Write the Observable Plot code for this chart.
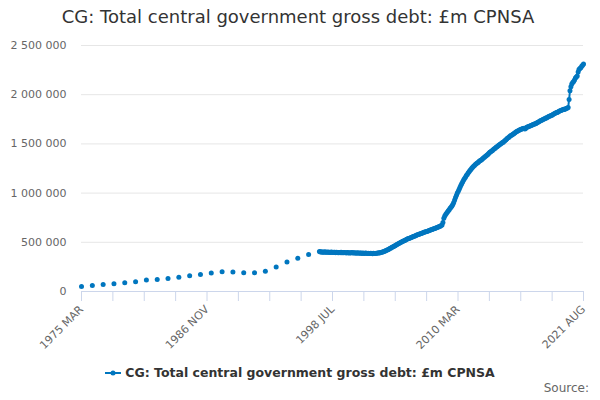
<!DOCTYPE html>
<html>
<head>
<meta charset="utf-8">
<script src="https://cdn.jsdelivr.net/npm/d3@7"></script>
<script src="https://cdn.jsdelivr.net/npm/@observablehq/plot@0.6"></script>
<style>
  body { margin: 0; background: #fff; font-family: "DejaVu Sans", sans-serif; }
  #wrap { position: relative; width: 600px; height: 400px; overflow: hidden; }
  #title { position: absolute; top: 6px; left: 0; width: 596px; text-align: center; font-size: 18px; color: #333; }
  #chart { position: absolute; top: 0; left: 0; }
  #legend { position: absolute; top: 365px; left: 0; width: 600px; text-align: center; font-size: 12.5px; font-weight: bold; color: #333; }
  #legend svg { vertical-align: -1px; margin-right: 4px; }
  #source { position: absolute; top: 381px; right: 11px; font-size: 12px; color: #666; }
</style>
</head>
<body>
<div id="wrap">
  <div id="title">CG: Total central government gross debt: £m CPNSA</div>
  <div id="chart"></div>
  <div id="legend"><svg width="16" height="10"><line x1="0" x2="16" y1="5" y2="5" stroke="#0076bf" stroke-width="2"/><circle cx="8" cy="5" r="2.5" fill="#0076bf"/></svg>CG: Total central government gross debt: £m CPNSA</div>
  <div id="source">Source:</div>
</div>
<script>
// annual observations (March), £m
const annualYears = [1975, 1976, 1977, 1978, 1979, 1980, 1981, 1982, 1983, 1984, 1985,
  1986, 1987, 1988, 1989, 1990, 1991, 1992, 1993, 1994, 1995, 1996]
const annualValues = [51000, 61000, 71000, 78000, 88000, 99000, 116000, 122000, 132000, 146000, 160000,
  173000, 187000, 200000, 197000, 190000, 190000, 207000, 248000, 299000, 339000, 376000]

// monthly observations from 1997 MAR to 2021 AUG, £m
const monthlyStart = '1997-03'
const monthlyValues = [
  /* 1997 Mar-Dec */ 406000, 402000, 404000, 400000, 401000, 398000, 403000, 399000, 400000, 402000,
  /* 1998 */ 398000, 400000, 397000, 401000, 399000, 396000, 400000, 398000, 395000, 399000, 397000, 394000,
  /* 1999 */ 397000, 395000, 398000, 394000, 396000, 393000, 397000, 395000, 392000, 396000, 394000, 391000,
  /* 2000 */ 395000, 392000, 396000, 393000, 390000, 394000, 392000, 389000, 393000, 391000, 388000, 392000,
  /* 2001 */ 390000, 387000, 391000, 389000, 386000, 390000, 388000, 386000, 389000, 387000, 385000, 388000,
  /* 2002 */ 386000, 384000, 388000, 386000, 385000, 389000, 388000, 390000, 393000, 392000, 396000, 399000,
  /* 2003 */ 401000, 404000, 409000, 412000, 416000, 421000, 425000, 430000, 436000, 440000, 446000, 451000,
  /* 2004 */ 456000, 462000, 466000, 472000, 478000, 482000, 487000, 494000, 497000, 503000, 507000, 512000,
  /* 2005 */ 517000, 521000, 526000, 530000, 535000, 538000, 542000, 547000, 550000, 554000, 558000, 561000,
  /* 2006 */ 564000, 568000, 573000, 576000, 580000, 584000, 586000, 590000, 594000, 597000, 601000, 604000,
  /* 2007 */ 606000, 610000, 613000, 617000, 620000, 624000, 627000, 630000, 634000, 638000, 641000, 645000,
  /* 2008 */ 648000, 652000, 656000, 661000, 664000, 670000, 676000, 700000, 745000, 768000, 782000, 795000,
  /* 2009 */ 808000, 820000, 832000, 845000, 856000, 868000, 885000, 905000, 930000, 955000, 978000, 1000000,
  /* 2010 */ 1020000, 1040000, 1060000, 1080000, 1098000, 1115000, 1132000, 1148000, 1162000, 1178000, 1190000, 1205000,
  /* 2011 */ 1218000, 1230000, 1240000, 1252000, 1262000, 1272000, 1280000, 1290000, 1298000, 1305000, 1312000, 1320000,
  /* 2012 */ 1328000, 1335000, 1340000, 1350000, 1357000, 1364000, 1372000, 1380000, 1388000, 1396000, 1404000, 1414000,
  /* 2013 */ 1420000, 1428000, 1433000, 1442000, 1450000, 1456000, 1465000, 1472000, 1478000, 1486000, 1494000, 1500000,
  /* 2014 */ 1506000, 1515000, 1518000, 1528000, 1535000, 1542000, 1552000, 1560000, 1565000, 1574000, 1582000, 1588000,
  /* 2015 */ 1592000, 1600000, 1605000, 1613000, 1620000, 1625000, 1630000, 1636000, 1640000, 1646000, 1650000, 1654000,
  /* 2016 */ 1656000, 1660000, 1652000, 1660000, 1668000, 1672000, 1676000, 1680000, 1684000, 1688000, 1692000, 1697000,
  /* 2017 */ 1700000, 1706000, 1705000, 1712000, 1718000, 1722000, 1728000, 1734000, 1738000, 1742000, 1748000, 1752000,
  /* 2018 */ 1756000, 1762000, 1764000, 1770000, 1776000, 1780000, 1784000, 1788000, 1792000, 1798000, 1804000, 1810000,
  /* 2019 */ 1815000, 1820000, 1818000, 1826000, 1832000, 1836000, 1840000, 1844000, 1848000, 1852000, 1850000, 1856000,
  /* 2020 */ 1860000, 1865000, 1870000, 1950000, 2040000, 2080000, 2110000, 2125000, 2135000, 2150000, 2170000, 2180000,
  /* 2021 Jan-Aug */ 2190000, 2230000, 2255000, 2265000, 2275000, 2290000, 2300000, 2312000
]

const xTickLabels = ['1975 MAR', '1986 NOV', '1998 JUL', '2010 MAR', '2021 AUG']
const yTicks = [0, 500000, 1000000, 1500000, 2000000, 2500000]

const annual = annualYears.map((y, i) => ({date: new Date(y, 2, 1), value: annualValues[i]}))
const [sy, sm] = monthlyStart.split('-').map(Number)
const monthly = monthlyValues.map((v, i) => ({date: new Date(sy, sm - 1 + i, 1), value: v}))
const all = annual.concat(monthly)

const t0 = all[0].date, t1 = all[all.length - 1].date
// 16 equal intervals, labels on every 4th
const xTicks = d3.range(17).map(i => new Date(+t0 + i * (t1 - t0) / 16))

const fmt = d3.formatLocale({decimal: '.', thousands: ' ', grouping: [3], currency: ['', '']}).format(',d')
const blue = '#0076bf'

const chart = Plot.plot({
  width: 600,
  height: 360,
  marginLeft: 81,
  marginRight: 17,
  marginTop: 45,
  marginBottom: 69,
  style: {fontFamily: 'DejaVu Sans, sans-serif', fontSize: '11px', color: '#666', background: 'transparent', overflow: 'visible'},
  x: {type: 'time', domain: [t0, t1]},
  y: {domain: [0, 2500000]},
  marks: [
    Plot.gridY(yTicks, {stroke: '#e6e6e6', strokeOpacity: 1}),
    Plot.ruleY([0], {stroke: '#ccd6eb'}),
    Plot.axisY(yTicks, {tickSize: 0, tickPadding: 15, tickFormat: fmt, label: null, fill: '#666'}),
    Plot.axisX(xTicks, {
      tickSize: 10, stroke: '#ccd6eb', tickRotate: -45, tickPadding: 6, label: null, fill: '#666',
      tickFormat: (d, i) => i % 4 === 0 ? xTickLabels[i / 4] : ''
    }),
    Plot.line(monthly, {x: 'date', y: 'value', stroke: blue, strokeWidth: 2}),
    Plot.dot(all, {x: 'date', y: 'value', r: 2.5, fill: blue})
  ]
})

d3.select('#chart').append(() => chart)
</script>
</body>
</html>
